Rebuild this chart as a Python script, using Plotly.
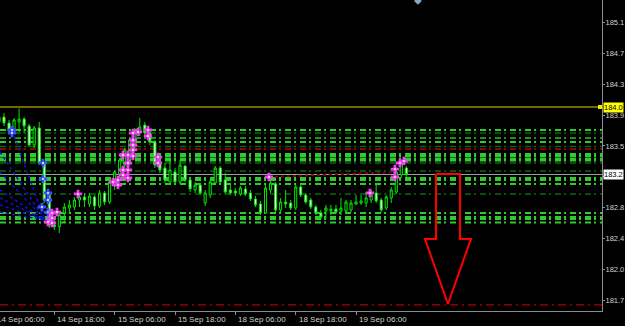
import plotly.graph_objects as go

# ---------------- data ----------------
bars = list(range(-1, 81))
opens = [183.945, 183.945, 183.872, 183.786, 183.884, 183.92, 183.835, 183.602, 183.811, 183.381,
         182.988, 182.62, 182.60, 182.767, 182.829, 182.841, 182.927, 182.964, 182.878, 182.964,
         182.853, 183.013, 182.902, 183.099, 183.234, 183.356, 183.418, 183.602, 183.749, 183.847,
         183.749, 183.639, 183.381, 183.32, 183.148, 183.271, 183.148, 183.344, 183.173, 183.05,
         183.111, 182.89, 182.988, 183.136, 183.32, 183.173, 183.05, 183.038, 183.001, 183.062,
         183.013, 182.939, 182.878, 182.767, 183.05, 183.124, 182.804, 182.902, 182.89, 182.829,
         183.087, 182.988, 182.927, 182.841, 182.767, 182.792, 182.792, 182.816, 182.792, 182.792,
         182.804, 182.878, 182.89, 182.89, 182.927, 183.013, 182.927, 182.829, 182.952, 183.025,
         183.234, 183.32]
highs = [183.982, 183.994, 183.909, 183.933, 184.05, 183.945, 183.86, 183.835, 183.884, 183.405,
         183.013, 182.70, 182.78, 182.89, 182.927, 182.964, 183.001, 183.013, 183.013, 182.988,
         183.05, 183.038, 183.197, 183.295, 183.442, 183.565, 183.688, 183.811, 183.933, 183.884,
         183.786, 183.663, 183.479, 183.381, 183.418, 183.32, 183.418, 183.356, 183.197, 183.148,
         183.136, 183.05, 183.173, 183.344, 183.344, 183.258, 183.136, 183.075, 183.099, 183.099,
         183.05, 182.976, 182.915, 183.136, 183.173, 183.148, 182.952, 183.05, 182.927, 183.111,
         183.111, 183.013, 182.952, 182.866, 182.804, 182.866, 182.866, 182.866, 182.952, 182.927,
         182.927, 182.988, 182.988, 183.025, 183.05, 183.111, 182.952, 182.988, 183.087, 183.32,
         183.418, 183.344]
lows = [183.86, 183.835, 183.749, 183.749, 183.762, 183.749, 183.577, 183.565, 183.356, 182.89,
        182.583, 182.559, 182.522, 182.657, 182.767, 182.804, 182.841, 182.841, 182.841, 182.804,
        182.829, 182.866, 182.878, 183.05, 183.197, 183.32, 183.356, 183.541, 183.712, 183.712,
        183.602, 183.32, 183.258, 183.136, 183.111, 183.111, 183.124, 183.148, 183.025, 183.013,
        182.988, 182.853, 182.952, 183.111, 183.124, 183.001, 182.988, 182.976, 182.976, 182.976,
        182.915, 182.841, 182.743, 182.755, 183.013, 182.779, 182.779, 182.829, 182.804, 182.804,
        182.964, 182.878, 182.816, 182.743, 182.694, 182.706, 182.743, 182.755, 182.743, 182.767,
        182.779, 182.866, 182.866, 182.841, 182.89, 182.89, 182.779, 182.804, 182.89, 183.001,
        183.197, 183.209]
closes = [183.884, 183.872, 183.774, 183.909, 183.92, 183.835, 183.602, 183.811, 183.381, 182.927,
          182.62, 182.60, 182.743, 182.841, 182.866, 182.927, 182.964, 182.927, 182.976, 182.853,
          183.013, 182.902, 183.148, 183.271, 183.418, 183.541, 183.663, 183.786, 183.823, 183.749,
          183.639, 183.356, 183.295, 183.173, 183.295, 183.148, 183.356, 183.173, 183.062, 183.111,
          183.013, 183.013, 183.148, 183.32, 183.148, 183.025, 183.013, 183.013, 183.075, 183.001,
          182.939, 182.866, 182.767, 183.075, 183.136, 182.804, 182.902, 182.878, 182.829, 183.087,
          182.988, 182.902, 182.841, 182.767, 182.718, 182.829, 182.816, 182.779, 182.829, 182.902,
          182.89, 182.902, 182.915, 182.952, 182.988, 182.915, 182.804, 182.964, 183.05, 183.271,
          183.381, 183.24]

# time axis labels (bar index of each label)
time_label_bars = [-2, 10, 22, 34, 46, 58, 70]
time_labels = ["14 Sep 06:00", "14 Sep 18:00", "15 Sep 06:00", "15 Sep 18:00",
               "18 Sep 06:00", "18 Sep 18:00", "19 Sep 06:00"]

# price scale ticks
price_ticks = [181.700, 182.078, 182.456, 182.834, 183.212, 183.590, 183.968, 184.346, 184.724, 185.102]

# horizontal levels
yellow_level = 184.068
red_levels = [183.553, 181.639]
bright_levels = [183.786, 183.639, 183.124, 182.767, 182.651]
bright_thick_levels = [183.479, 183.424, 183.185, 182.706]
mid_levels = [183.688]
dark_levels = [183.749, 183.584, 183.381, 183.283, 183.001]

# markers
magenta_bars = [8.75, 9.54, 9.54, 9.54, 10.54, 14.71, 21.67, 22.66, 22.66, 23.66, 23.66, 23.66,
                24.65, 24.65, 24.65, 24.65, 25.65, 25.65, 25.65, 25.65, 25.65, 26.64, 28.63, 28.63,
                30.62, 30.62, 52.68, 72.76, 77.73, 77.73, 78.73, 79.52]
magenta_prices = [182.657, 182.767, 182.706, 182.645, 182.779, 183.001, 183.148, 183.173, 183.111,
                  183.479, 183.295, 183.234, 183.479, 183.381, 183.295, 183.197, 183.749, 183.663,
                  183.602, 183.541, 183.467, 183.762, 183.786, 183.712, 183.454, 183.381, 183.209,
                  183.013, 183.307, 183.209, 183.381, 183.405]
blue_bars = [1.59, 1.59, 7.75, 7.75, 8.75, 8.75, 7.55, 8.75]
blue_prices = [183.786, 183.749, 183.381, 183.185, 183.013, 182.927, 182.841, 182.779]

# fan lines (blue dotted)
fan_start_bars = [1.59, -0.8, -0.8, -0.8, -0.8, -0.8, -0.8]
fan_start_prices = [183.774, 183.516, 183.271, 183.05, 182.952, 182.866, 182.779]
fan_end_bar = 8.15
fan_end_price = 182.682

# slanted dark-red dotted line
trend_bars = [52.68, 77.7]
trend_prices = [183.209, 183.271]

# big red arrow outline
arrow_bars = [85.9, 90.66, 90.66, 92.84, 88.27, 83.7, 85.9, 85.9]
arrow_prices = [183.246, 183.246, 182.449, 182.449, 181.651, 182.449, 182.449, 183.246]

# ---------------- figure ----------------
X_RANGE = [-0.795, 118.9]
Y_RANGE = [181.565, 185.381]

fig = go.Figure()

DASH = "6px,3px,2px,4px"
shapes = []
def hline(y, color, width, dash=DASH):
    shapes.append(dict(type="line", xref="paper", x0=0, x1=1, yref="y", y0=y, y1=y,
                       line=dict(color=color, width=width, dash=dash), layer="below"))

for v in bright_thick_levels:
    hline(v, "#2FCB2F", 4)
for v in bright_levels:
    hline(v, "#2FCB2F", 2)
for v in mid_levels:
    hline(v, "#129A12", 2)
for v in dark_levels:
    hline(v, "#0A6A0A", 1.5)
hline(red_levels[0], "#C00000", 1.5)
hline(red_levels[1], "#B00000", 1.2, "8px,4px,2px,4px")
hline(yellow_level, "#D8D800", 1, "solid")
hline(closes[-1], "#9AA0A8", 1, "solid")

# fan lines
for sb, sp in zip(fan_start_bars, fan_start_prices):
    fig.add_trace(go.Scatter(x=[sb, fan_end_bar], y=[sp, fan_end_price], mode="lines",
                             line=dict(color="#1010D0", width=1.5, dash="dot"),
                             hoverinfo="skip", showlegend=False))

# trend line
fig.add_trace(go.Scatter(x=trend_bars, y=trend_prices, mode="lines",
                         line=dict(color="#8A0000", width=2, dash="dot"),
                         hoverinfo="skip", showlegend=False))

# candles
fig.add_trace(go.Candlestick(
    x=bars, open=opens, high=highs, low=lows, close=closes,
    increasing=dict(line=dict(color="#00E600", width=1), fillcolor="#000000"),
    decreasing=dict(line=dict(color="#00E600", width=1), fillcolor="#FFFFFF"),
    whiskerwidth=0, showlegend=False, hoverinfo="skip"))

# markers (coloured cross with a light centre)
for mb, mp, col, centre in [(blue_bars, blue_prices, "#3A50FF", "#C8D0FF"),
                            (magenta_bars, magenta_prices, "#F040F0", "#FFC8FF")]:
    fig.add_trace(go.Scatter(x=mb, y=mp, mode="markers",
                             marker=dict(symbol="cross", size=7, color=col, line=dict(width=0)),
                             hoverinfo="skip", showlegend=False))
    fig.add_trace(go.Scatter(x=mb, y=mp, mode="markers",
                             marker=dict(symbol="square", size=2, color=centre, line=dict(width=0)),
                             hoverinfo="skip", showlegend=False))

# arrow
fig.add_trace(go.Scatter(x=arrow_bars, y=arrow_prices, mode="lines",
                         line=dict(color="#FF0000", width=2),
                         hoverinfo="skip", showlegend=False))

# yellow end square and top diamond
fig.add_trace(go.Scatter(x=[118.5], y=[yellow_level], mode="markers",
                         marker=dict(symbol="square", size=4, color="#F0F000"),
                         cliponaxis=False, hoverinfo="skip", showlegend=False))
fig.add_trace(go.Scatter(x=[82.3], y=[185.37], mode="markers",
                         marker=dict(symbol="diamond", size=6, color="#8AA8C0"),
                         cliponaxis=False, hoverinfo="skip", showlegend=False))

LABEL_FONT = dict(family="Liberation Sans", size=7.5)
annotations = []
span = X_RANGE[1] - X_RANGE[0]
for b, t in zip(time_label_bars, time_labels):
    annotations.append(dict(x=(b - X_RANGE[0]) / span, xref="paper", y=0, yref="paper", text=t,
                            showarrow=False, xanchor="left", yanchor="top", xshift=1, yshift=-2,
                            font=dict(family="Liberation Sans", size=8, color="#D0D0D0")))
# price-scale labels show only the part that fits in the narrow scale
annotations.append(dict(x=1, xref="paper", y=yellow_level, yref="y", text=f"{yellow_level:.3f}"[:5],
                        showarrow=False, xanchor="left", yanchor="middle", xshift=1,
                        bgcolor="#FFFF00", borderpad=0,
                        font=dict(LABEL_FONT, color="#000000")))
annotations.append(dict(x=1, xref="paper", y=closes[-1], yref="y", text=f"{closes[-1]:.3f}"[:5],
                        showarrow=False, xanchor="left", yanchor="middle", xshift=1,
                        bgcolor="#FFFFFF", borderpad=0,
                        font=dict(LABEL_FONT, color="#000000")))

# the tick label sitting under the current-price box is hidden by it in the reference
tick_text = [("" if abs(v - closes[-1]) < 0.1 else f"{v:.3f}"[:5]) for v in price_ticks]

fig.update_layout(
    width=625, height=326,
    margin=dict(l=0, r=23, t=0, b=15, pad=0, autoexpand=False),
    paper_bgcolor="#000000", plot_bgcolor="#000000",
    showlegend=False, boxgap=0.4,
    shapes=shapes, annotations=annotations,
    xaxis=dict(range=X_RANGE, showgrid=False, zeroline=False, automargin=False,
               rangeslider=dict(visible=False),
               showline=True, linecolor="#8C8C8C", linewidth=1,
               tickmode="array", tickvals=time_label_bars[1:],
               ticktext=["" for _ in time_label_bars[1:]],
               ticks="outside", ticklen=3, tickcolor="#8C8C8C"),
    yaxis=dict(range=Y_RANGE, side="right", showgrid=False, zeroline=False, automargin=False,
               showline=True, linecolor="#8C8C8C", linewidth=1,
               tickmode="array", tickvals=price_ticks,
               ticktext=tick_text,
               ticks="outside", ticklen=2, tickcolor="#8C8C8C", ticklabelstandoff=-1,
               tickfont=dict(LABEL_FONT, color="#D0D0D0")),
)

fig.write_html("out.html")
